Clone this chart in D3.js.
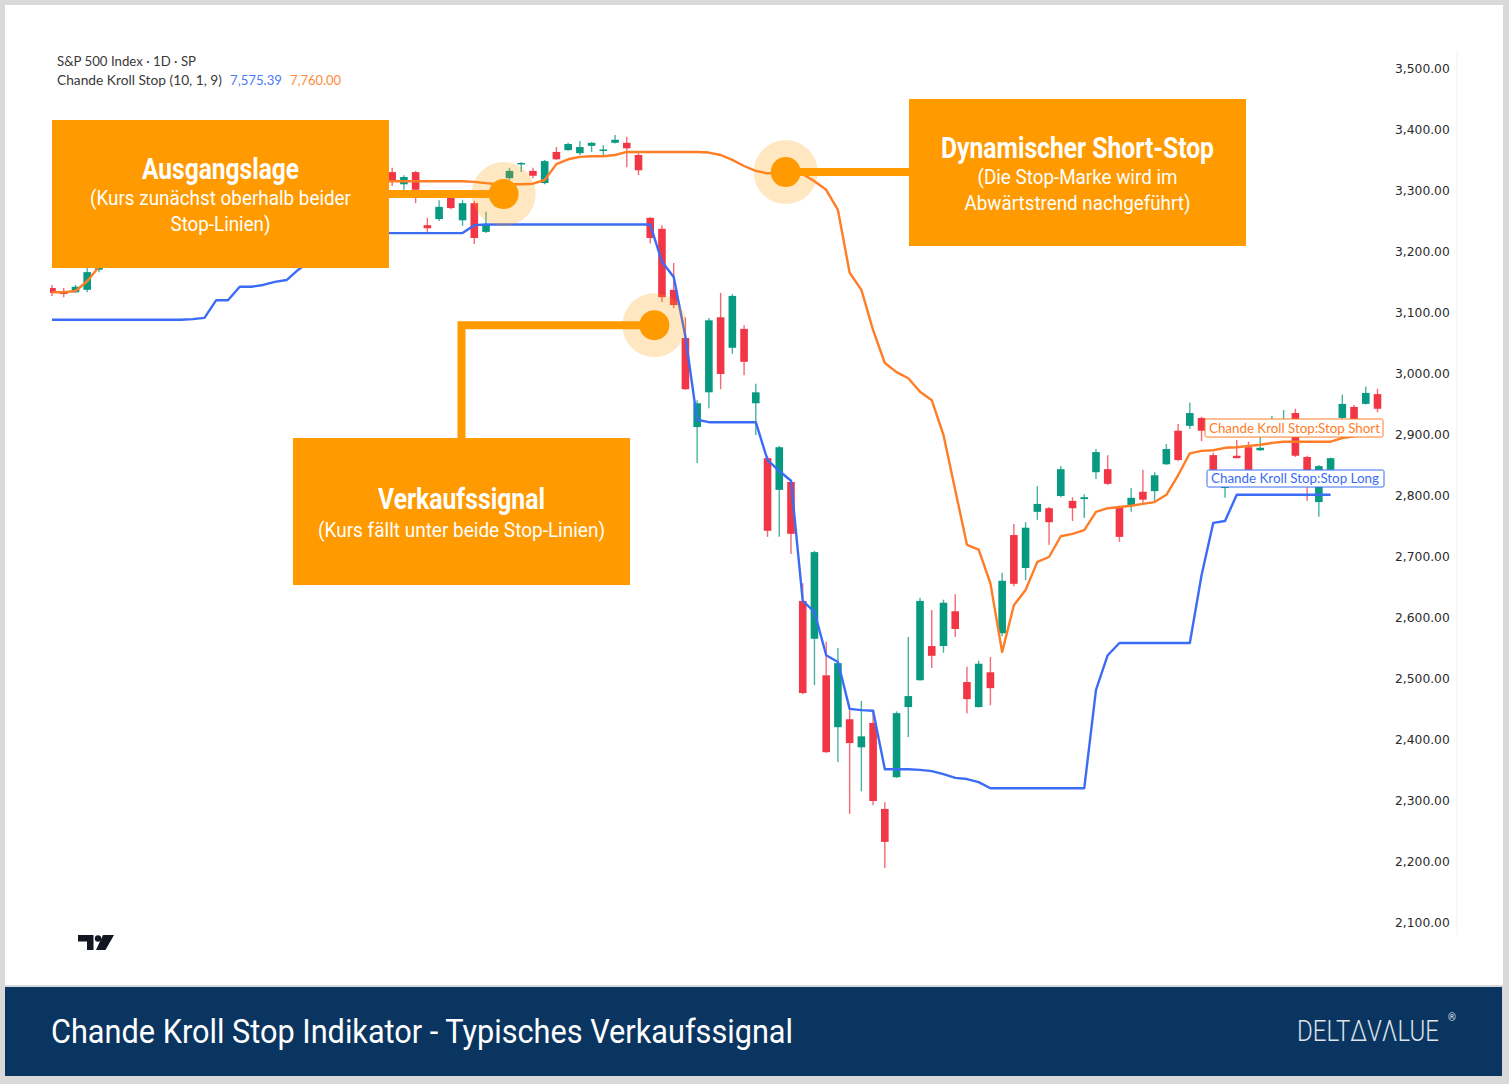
<!DOCTYPE html>
<html><head><meta charset="utf-8">
<script src="https://cdn.jsdelivr.net/npm/d3@7"></script>
<style>
html,body{margin:0;padding:0;background:#d9d9d9;}
svg{display:block;}
</style></head><body>
<svg id="c" width="1509" height="1084"></svg>
<script>
// ---------- DATA ----------
const dates = ["2019-12-09","2019-12-10","2019-12-11","2019-12-12","2019-12-13","2019-12-16","2019-12-17","2019-12-18","2019-12-19","2019-12-20",
"2019-12-23","2019-12-24","2019-12-26","2019-12-27","2019-12-30","2019-12-31","2020-01-02","2020-01-03","2020-01-06","2020-01-07",
"2020-01-08","2020-01-09","2020-01-10","2020-01-13","2020-01-14","2020-01-15","2020-01-16","2020-01-17","2020-01-21","2020-01-22",
"2020-01-23","2020-01-24","2020-01-27","2020-01-28","2020-01-29","2020-01-30","2020-01-31","2020-02-03","2020-02-04","2020-02-05",
"2020-02-06","2020-02-07","2020-02-10","2020-02-11","2020-02-12","2020-02-13","2020-02-14","2020-02-18","2020-02-19","2020-02-20",
"2020-02-21","2020-02-24","2020-02-25","2020-02-26","2020-02-27","2020-02-28","2020-03-02","2020-03-03","2020-03-04","2020-03-05",
"2020-03-06","2020-03-09","2020-03-10","2020-03-11","2020-03-12","2020-03-13","2020-03-16","2020-03-17","2020-03-18","2020-03-19",
"2020-03-20","2020-03-23","2020-03-24","2020-03-25","2020-03-26","2020-03-27","2020-03-30","2020-03-31","2020-04-01","2020-04-02",
"2020-04-03","2020-04-06","2020-04-07","2020-04-08","2020-04-09","2020-04-13","2020-04-14","2020-04-15","2020-04-16","2020-04-17",
"2020-04-20","2020-04-21","2020-04-22","2020-04-23","2020-04-24","2020-04-27","2020-04-28","2020-04-29","2020-04-30","2020-05-01",
"2020-05-04","2020-05-05","2020-05-06","2020-05-07","2020-05-08","2020-05-11","2020-05-12","2020-05-13","2020-05-14","2020-05-15",
"2020-05-18","2020-05-19","2020-05-20","2020-05-21"];

const open = [3141,3136,3134,3138,3171,3183,3195,3195,3192,3223,
3226,3225,3227,3247,3240,3215,3245,3226,3217,3241,
3238,3266,3281,3271,3285,3282,3302,3323,3321,3331,
3311,3331,3244,3254,3289,3252,3280,3233,3275,3321,
3345,3333,3313,3364,3367,3362,3374,3367,3379,3379,
3359,3256,3238,3138,3059,2913,2970,3093,3043,3074,
2952,2862,2810,2823,2628,2566,2506,2421,2434,2388,
2428,2287,2339,2454,2498,2554,2554,2611,2495,2454,
2511,2575,2736,2682,2774,2780,2800,2792,2795,2839,
2844,2782,2784,2807,2808,2852,2907,2915,2928,2867,
2813,2866,2880,2875,2917,2918,2936,2864,2790,2843,
2928,2946,2951,2967];

const high = [3146,3141,3146,3174,3190,3197,3198,3198,3206,3226,
3228,3226,3240,3247,3240,3231,3258,3246,3246,3244,
3267,3276,3283,3288,3294,3299,3317,3330,3329,3338,
3326,3333,3256,3285,3290,3285,3284,3266,3305,3338,
3347,3338,3351,3372,3379,3382,3380,3375,3392,3389,
3362,3257,3244,3182,3093,2957,3092,3133,3131,3080,
2984,2866,2882,2825,2657,2710,2561,2551,2449,2464,
2449,2298,2447,2569,2633,2613,2630,2639,2520,2530,
2536,2674,2754,2757,2816,2782,2849,2798,2803,2877,
2867,2784,2813,2843,2839,2885,2918,2953,2930,2871,
2830,2892,2889,2897,2931,2941,2943,2866,2851,2863,
2966,2949,2979,2976];

const low = [3128,3126,3133,3134,3167,3182,3189,3187,3191,3216,
3221,3220,3227,3235,3217,3212,3236,3222,3214,3233,
3236,3263,3260,3268,3277,3280,3302,3318,3316,3308,
3302,3280,3233,3251,3270,3243,3213,3231,3272,3318,
3331,3321,3311,3351,3366,3359,3364,3356,3378,3339,
3326,3214,3118,3108,2974,2854,2944,2975,3033,2998,
2900,2733,2733,2705,2475,2490,2379,2364,2279,2316,
2293,2190,2338,2405,2497,2518,2543,2569,2444,2453,
2457,2570,2652,2662,2761,2720,2798,2759,2764,2828,
2818,2725,2774,2787,2792,2851,2857,2910,2890,2841,
2797,2862,2841,2874,2915,2913,2864,2792,2766,2841,
2926,2925,2950,2937];

const close = [3133,3131,3143,3167,3180,3191,3192,3191,3205,3221,
3224,3223,3240,3240,3221,3231,3258,3235,3246,3237,
3253,3275,3265,3288,3283,3289,3317,3330,3321,3315,
3323,3302,3239,3274,3272,3280,3223,3246,3298,3333,
3346,3325,3349,3352,3377,3372,3379,3368,3384,3370,
3334,3223,3126,3113,2975,2952,3088,3000,3128,3020,
2970,2743,2880,2738,2477,2708,2380,2526,2395,2406,
2300,2233,2444,2472,2628,2538,2625,2582,2467,2525,
2485,2661,2656,2748,2787,2757,2844,2780,2798,2872,
2820,2733,2797,2794,2834,2877,2859,2936,2907,2843,
2816,2862,2843,2879,2920,2921,2866,2839,2849,2862,
2951,2926,2969,2943];

const stopShort = [3134,3134,3136,3152,3176,3188,3196,3200,3206,3218,
3226,3228,3236,3240,3240,3240,3250,3250,3252,3254,
3262,3270,3272,3282,3286,3290,3304,3316,3316,3316,
3316,3316,3316,3316,3316,3316,3315,3313,3311,3311,
3311,3312,3318,3344,3352,3356,3357,3357,3359,3364,
3364,3364,3364,3364,3364,3364,3363,3359,3351,3341,
3333,3329,3329,3329,3328,3316,3302,3269,3166,3138,
3072,3018,3003,2993,2971,2957,2900,2810,2720,2712,
2657,2544,2621,2646,2692,2700,2734,2738,2744,2774,
2780,2782,2784,2787,2790,2802,2834,2870,2874,2875,
2879,2880,2882,2884,2887,2889,2889,2889,2889,2889,
2895,2898,2900,2902];

const stopLong = [3089,3089,3089,3089,3089,3089,3089,3089,3089,3089,
3089,3089,3090,3092,3121,3121,3143,3143,3146,3151,
3154,3171,3185,3195,3205,3212,3220,3226,3231,3231,
3231,3231,3231,3231,3231,3231,3244,3245,3245,3245,
3245,3245,3245,3245,3245,3245,3245,3245,3245,3245,
3245,3245,3184,3159,3061,2925,2921,2921,2921,2921,
2921,2859,2841,2825,2628,2610,2539,2528,2451,2449,
2448,2352,2352,2352,2351,2349,2344,2338,2336,2331,
2321,2321,2321,2321,2321,2321,2321,2321,2321,2482,
2539,2559,2559,2559,2559,2559,2559,2559,2670,2756,
2759,2802,2802,2802,2802,2802,2802,2802,2802,2802,
null,null,null,null];

const yTicks = [2100,2200,2300,2400,2500,2600,2700,2800,2900,3000,3100,3200,3300,3400,3500];

const legendTitle = "S&P 500 Index · 1D · SP";
const legendInd = "Chande Kroll Stop (10, 1, 9)";
const legendLong = "7,575.39";
const legendShort = "7,760.00";
const labelShort = "Chande Kroll Stop:Stop Short";
const labelLong = "Chande Kroll Stop:Stop Long";
const footerTitle = "Chande Kroll Stop Indikator - Typisches Verkaufssignal";

// annotation anchor points (fractional candle index, price)
const annotations = [
  {title:"Ausgangslage", lines:["(Kurs zunächst oberhalb beider","Stop-Linien)"], at:[38.5,3295]},
  {title:"Dynamischer Short-Stop", lines:["(Die Stop-Marke wird im","Abwärtstrend nachgeführt)"], at:[62.55,3331]},
  {title:"Verkaufssignal", lines:["(Kurs fällt unter beide Stop-Linien)"], at:[51.35,3080]}
];

// ---------- DRAW ----------
const UP = "#089981", DOWN = "#f23645";
const C_SHORT = "#ff7d27", C_LONG = "#3b6cf5", C_ANN = "#ff9a00";
const svg = d3.select("#c");

svg.append("rect").attr("x",0).attr("y",0).attr("width",1509).attr("height",1084).attr("fill","#d9d9d9");
svg.append("rect").attr("x",5).attr("y",5).attr("width",1498).attr("height",980).attr("fill","#ffffff");
svg.append("rect").attr("x",5).attr("y",987).attr("width",1497).attr("height",89).attr("fill","#0b3561");

const x = d3.scalePoint().domain(dates).range([52, 1377.5]);
const xi = d3.scaleLinear().domain([0, dates.length-1]).range([52, 1377.5]);
const y = d3.scaleLinear().domain([2100, 3500]).range([923, 69]);

svg.append("defs").append("clipPath").attr("id","clip")
  .append("rect").attr("x",50).attr("y",40).attr("width",1407).attr("height",940);

// pane separator
svg.append("line").attr("x1",1457).attr("x2",1457).attr("y1",50).attr("y2",935)
  .attr("stroke","#f0f0f0").attr("stroke-width",1);

const plot = svg.append("g").attr("clip-path","url(#clip)");

const candles = dates.map((d,i)=>({d, o:open[i], h:high[i], l:low[i], c:close[i]}));
const col = c => c.c >= c.o ? UP : DOWN;

plot.selectAll("line.wick").data(candles).join("line").attr("class","wick")
  .attr("x1",c=>x(c.d)).attr("x2",c=>x(c.d))
  .attr("y1",c=>y(c.h)).attr("y2",c=>y(c.l))
  .attr("stroke",col).attr("stroke-width",1.4).attr("stroke-opacity",0.75);

const bw = 7.6;
plot.selectAll("rect.body").data(candles).join("rect").attr("class","body")
  .attr("x",c=>x(c.d)-bw/2).attr("width",bw)
  .attr("y",c=>y(Math.max(c.o,c.c)))
  .attr("height",c=>Math.max(1.5, Math.abs(y(c.o)-y(c.c))))
  .attr("fill",col);

const lineGen = d3.line().defined(v=>v!=null).x((v,i)=>x(dates[i])).y(v=>y(v));
plot.append("path").datum(stopLong).attr("d",lineGen).attr("fill","none")
  .attr("stroke",C_LONG).attr("stroke-width",2.4).attr("stroke-linejoin","round");
plot.append("path").datum(stopShort).attr("d",lineGen).attr("fill","none")
  .attr("stroke",C_SHORT).attr("stroke-width",2.4).attr("stroke-linejoin","round");

// y axis
const yAxis = d3.axisRight(y).tickValues(yTicks).tickSize(0).tickPadding(0).tickFormat(d3.format(",.2f"));
const ag = svg.append("g").attr("transform","translate(1395,0)").call(yAxis);
ag.select(".domain").remove();
ag.selectAll("text").attr("font-family","DejaVu Sans").attr("font-size",12.3).attr("fill","#2a2a2a");

// line labels
function tag(txt, x0, y0, w, h, color, tl){
  svg.append("rect").attr("x",x0).attr("y",y0).attr("width",w).attr("height",h)
    .attr("fill","#fff").attr("stroke",color).attr("stroke-width",1).attr("rx",1.5);
  svg.append("text").attr("x",x0+4).attr("y",y0+h-4.5).text(txt)
    .attr("font-family","Lato").attr("font-size",12.5).attr("fill",color)
    .attr("textLength",tl).attr("lengthAdjust","spacingAndGlyphs");
}
tag(labelShort, 1205, 419, 178, 18, C_SHORT, 171);
tag(labelLong, 1207, 470, 177, 17, C_LONG, 168);

// legend
svg.append("text").attr("x",57).attr("y",66).text(legendTitle)
  .attr("font-family","Lato").attr("font-size",12.5).attr("fill","#3a3a3a")
  .attr("textLength",139).attr("lengthAdjust","spacingAndGlyphs");
svg.append("text").attr("x",57).attr("y",85).text(legendInd)
  .attr("font-family","Lato").attr("font-size",12.5).attr("fill","#3a3a3a")
  .attr("textLength",165).attr("lengthAdjust","spacingAndGlyphs");
svg.append("text").attr("x",230).attr("y",85).text(legendLong)
  .attr("font-family","Lato").attr("font-size",12.5).attr("fill","#4a7bf7")
  .attr("textLength",52).attr("lengthAdjust","spacingAndGlyphs");
svg.append("text").attr("x",290).attr("y",85).text(legendShort)
  .attr("font-family","Lato").attr("font-size",12.5).attr("fill","#ff8a3d")
  .attr("textLength",51).attr("lengthAdjust","spacingAndGlyphs");

// TradingView logo
const logo = svg.append("g").attr("fill","#131722");
logo.append("path").attr("d","M78,935 H93.5 V950 H87 V941.5 H78 Z");
logo.append("circle").attr("cx",98).attr("cy",938.5).attr("r",3.2);
logo.append("path").attr("d","M103,935 H114 L105.5,950 H96 Z");

// ---------- ANNOTATIONS ----------
const ann = svg.append("g");
const pts = annotations.map(a=>({x:xi(a.at[0]), y:y(a.at[1])}));
const boxes = [
  {x:52, y:120, w:337, h:148, tw:157, tb:179, lw:[261,100], lb:[205,231]},
  {x:909, y:99, w:337, h:147, tw:273, tb:158, lw:[200,226], lb:[184,210]},
  {x:293, y:438, w:337, h:147, tw:167, tb:509, lw:[287], lb:[537]}
];

// halos
pts.forEach(p=>{
  ann.append("circle").attr("cx",p.x).attr("cy",p.y).attr("r",32).attr("fill",C_ANN).attr("fill-opacity",0.24);
});
// connectors
const conn = d3.line();
ann.append("path").attr("d",conn([[boxes[0].x+boxes[0].w, pts[0].y],[pts[0].x, pts[0].y]]))
  .attr("stroke",C_ANN).attr("stroke-width",8).attr("fill","none");
ann.append("path").attr("d",conn([[pts[1].x, pts[1].y],[boxes[1].x, pts[1].y]]))
  .attr("stroke",C_ANN).attr("stroke-width",8).attr("fill","none");
const cx3 = boxes[2].x + boxes[2].w/2;
ann.append("path").attr("d",conn([[cx3, boxes[2].y],[cx3, pts[2].y],[pts[2].x, pts[2].y]]))
  .attr("stroke",C_ANN).attr("stroke-width",8).attr("fill","none").attr("stroke-linejoin","miter");
// dots
pts.forEach(p=>{
  ann.append("circle").attr("cx",p.x).attr("cy",p.y).attr("r",15).attr("fill",C_ANN);
});
// boxes
annotations.forEach((a,i)=>{
  const b = boxes[i];
  ann.append("rect").attr("x",b.x).attr("y",b.y).attr("width",b.w).attr("height",b.h).attr("fill",C_ANN);
  const cx = b.x + b.w/2;
  ann.append("text").attr("x",cx).attr("y",b.tb).attr("text-anchor","middle").text(a.title)
    .attr("font-family","Roboto").attr("font-weight",700).attr("font-size",29).attr("fill","#fff")
    .attr("textLength",b.tw).attr("lengthAdjust","spacingAndGlyphs");
  a.lines.forEach((t,j)=>{
    ann.append("text").attr("x",cx).attr("y",b.lb[j]).attr("text-anchor","middle").text(t)
      .attr("font-family","Roboto").attr("font-weight",400).attr("font-size",21).attr("fill","#fff")
      .attr("textLength",b.lw[j]).attr("lengthAdjust","spacingAndGlyphs");
  });
});

// footer
svg.append("text").attr("x",51).attr("y",1043).text(footerTitle)
  .attr("font-family","Roboto").attr("font-size",34).attr("fill","#ffffff")
  .attr("textLength",742).attr("lengthAdjust","spacingAndGlyphs");
svg.append("text").attr("transform","translate(1297,1041) scale(1,1.3)")
  .attr("font-family","Roboto").attr("font-weight",300).attr("font-size",22.5).attr("fill","#dfe4ea")
  .text("DELTΔVΛLUE").attr("textLength",142).attr("lengthAdjust","spacingAndGlyphs");
svg.append("text").attr("x",1448).attr("y",1021).text("®")
  .attr("font-family","Roboto").attr("font-size",10).attr("fill","#dfe4ea");
</script>
</body></html>
